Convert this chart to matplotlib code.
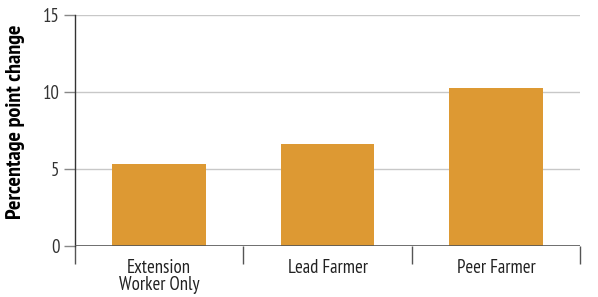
import matplotlib
matplotlib.use("Agg")
import matplotlib.pyplot as plt

# data
categories = ["Extension\nWorker Only", "Lead Farmer", "Peer Farmer"]
values = [5.3, 6.6, 10.25]
yticks = [0, 5, 10, 15]

plt.rcParams['font.family'] = ['PT Sans Narrow', 'DejaVu Sans']

fig = plt.figure(figsize=(5.98, 2.97), dpi=100)
ax = fig.add_axes([0.1254, 0.1717, 0.8446, 0.7778])

x = list(range(len(categories)))
ax.bar(x, values, width=0.555, color="#DD9933", zorder=3)

ax.set_xlim(-0.5, len(categories) - 0.5)
ax.set_ylim(0, 15)
ax.set_yticks(yticks)
ax.set_yticklabels([str(t) for t in yticks], fontsize=13.5, color="#333333")
for t in yticks[1:]:
    ax.axhline(t, color="#C8C8C8", lw=1.0, zorder=1)
ax.axhline(0, color="#555555", lw=1.2, zorder=4)

ax.set_xticks(x)
ax.set_xticklabels(categories, fontsize=13.5, color="#222222", linespacing=0.95)
ax.set_xticks([i - 0.5 for i in range(len(categories) + 1)], minor=True)
ax.tick_params(axis='x', which='major', length=0, pad=9)
ax.tick_params(axis='x', which='minor', length=13, width=1, color="#555555")
ax.tick_params(axis='y', length=8, width=1, color="#888888", pad=3)

for s in ["top", "right", "bottom"]:
    ax.spines[s].set_visible(False)
ax.spines["left"].set_color("#333333")
ax.spines["left"].set_linewidth(1)

ax.set_ylabel("Percentage point change", fontsize=16, fontweight="bold")
ax.yaxis.set_label_coords(-0.099, 0.537)

fig.savefig("out.png", dpi=100)
